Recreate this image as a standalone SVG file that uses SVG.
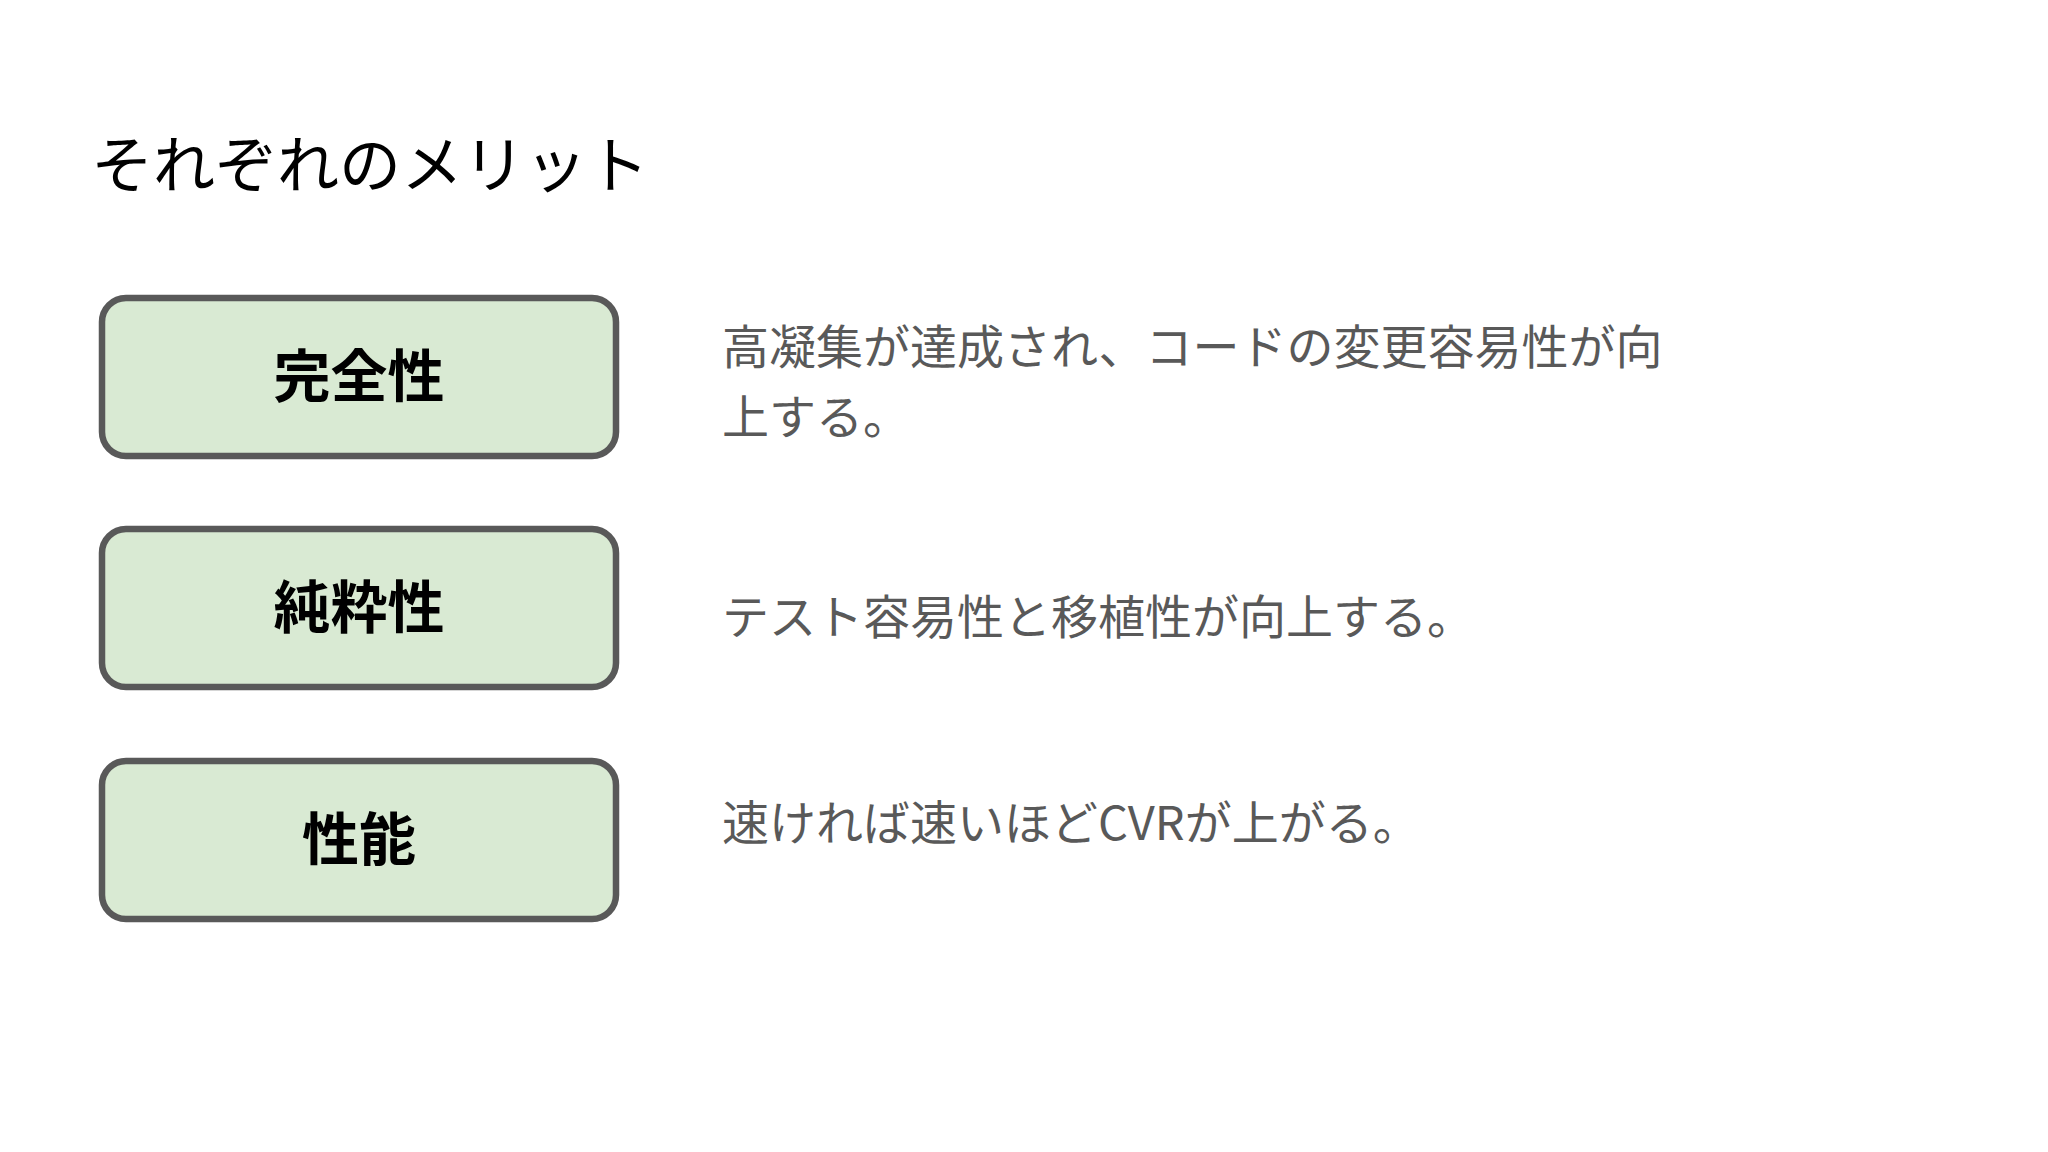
<svg xmlns="http://www.w3.org/2000/svg" width="2048" height="1152" viewBox="0 0 2048 1152">
<style>
.t{font-family:"Noto Sans CJK JP","Noto Sans",sans-serif}
.box{fill:#d9ead3;stroke:#595959;stroke-width:6.5}
.lbl{font-size:57px;font-weight:bold;fill:#000;text-anchor:middle}
.desc{font-size:47px;fill:#595959}
</style>
<rect width="2048" height="1152" fill="#fff"/>
<text class="t" x="91" y="188" font-size="62" fill="#000">それぞれのメリット</text>
<g id="n1"><rect class="box" x="102" y="298" width="514" height="158" rx="24"/><text class="t lbl" x="359" y="397">完全性</text></g>
<g id="n2"><rect class="box" x="102" y="529" width="514" height="158" rx="24"/><text class="t lbl" x="359" y="628">純粋性</text></g>
<g id="n3"><rect class="box" x="102" y="761" width="514" height="158" rx="24"/><text class="t lbl" x="359" y="860">性能</text></g>
<g id="connectors"/>
<g id="d1"><text class="t desc" x="722" y="364">高凝集が達成され、コードの変更容易性が向</text><text class="t desc" x="722" y="434">上する。</text></g>
<g id="d2"><text class="t desc" x="722" y="634">テスト容易性と移植性が向上する。</text></g>
<g id="d3"><text class="t desc" x="722" y="840">速ければ速いほどCVRが上がる。</text></g>
</svg>
